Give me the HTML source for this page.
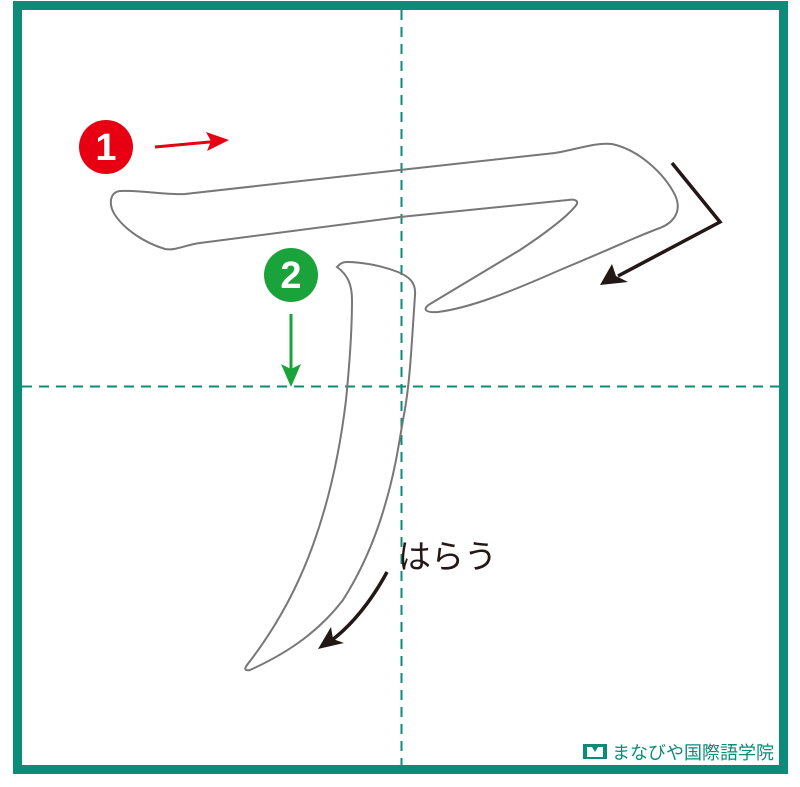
<!DOCTYPE html>
<html><head><meta charset="utf-8"><style>
html,body{margin:0;padding:0;background:#fff}
svg{display:block}
</style></head><body>
<svg width="800" height="787" viewBox="0 0 800 787" xmlns="http://www.w3.org/2000/svg">
<rect x="0" y="0" width="800" height="787" fill="#fff"/>
<rect x="17.5" y="5.5" width="766" height="764" fill="none" stroke="#0a8c78" stroke-width="9"/>
<line x1="401.5" y1="10" x2="401.5" y2="766" stroke="#0a8c78" stroke-width="2" stroke-dasharray="10,7"/>
<line x1="22" y1="386.5" x2="779" y2="386.5" stroke="#0a8c78" stroke-width="2" stroke-dasharray="10,7"/>

<path fill="none" stroke="#777" stroke-width="2" d="M120,191 C140,190 165,195 185,194 L400,170 L555,153 C575,150 595,142 612,144 C640,150 665,175 675,195 C682,210 675,222 660,228 C640,235 620,245 560,270 C510,292 470,308 438,312 C425,313 422,309 430,304 L520,250 C550,230 570,214 577,204 C578,200 574,199 568,200 L400,217 L200,243 C185,245 175,251 165,249 C145,243 125,230 115,215 C108,204 110,192 120,191 Z"/>
<path fill="none" stroke="#777" stroke-width="2" d="M337,267 C340,264 342,262 347,262 C360,262 380,265 398,272 C410,277 416,283 415,295 L412,340 C410,370 408,395 403,420 C398,450 394,475 385,505 C375,540 362,570 343,600 C320,630 290,652 250,670 C245,671 244,669 247,665 C272,633 295,595 313,545 C330,498 340,450 346,400 C350,360 352,330 352,300 C352,285 348,275 337,267 Z"/>

<g>
<circle cx="106" cy="147" r="27" fill="#e60012"/>
<text x="106" y="160" text-anchor="middle" font-family="Liberation Sans, sans-serif" font-weight="bold" font-size="38" fill="#fff">1</text>
</g>
<g>
<line x1="155" y1="147" x2="215" y2="141.5" stroke="#e60012" stroke-width="3"/>
<path d="M229,140 L206,132 L211,141 L207,151 Z" fill="#e60012"/>
</g>
<g>
<circle cx="291" cy="275" r="27" fill="#1aa33a"/>
<text x="291" y="288" text-anchor="middle" font-family="Liberation Sans, sans-serif" font-weight="bold" font-size="38" fill="#fff">2</text>
</g>
<g>
<line x1="291" y1="314" x2="291" y2="372" stroke="#1aa33a" stroke-width="3"/>
<path d="M291,387 L281,364 L291,369 L301,364 Z" fill="#1aa33a"/>
</g>

<g>
<polyline points="672,163 720,222 618,276" fill="none" stroke="#231815" stroke-width="3.5"/>
<path d="M600,285 L612,264 L616,276 L628,282 Z" fill="#231815"/>
</g>
<g>
<path d="M387,572 C372,600 352,625 332,640" fill="none" stroke="#231815" stroke-width="3.5"/>
<path d="M318,649 L331,627 L333,639 L344,643 Z" fill="#231815"/>
</g>
<text x="398" y="568" font-family="Liberation Sans, 'Noto Sans CJK JP', sans-serif" font-size="33" fill="#231815">はらう</text>

<g>
<rect x="583" y="744" width="24" height="15" fill="#0a8c78"/>
<path d="M587,747 L592,747 L595,752 L598,747 L603,747 L603,757 L587,757 Z" fill="#fff"/>
<text x="612" y="759" font-family="Liberation Sans, 'Noto Sans CJK JP', sans-serif" font-size="18" fill="#0a8c78">まなびや国際語学院</text>
</g>
</svg>
</body></html>
